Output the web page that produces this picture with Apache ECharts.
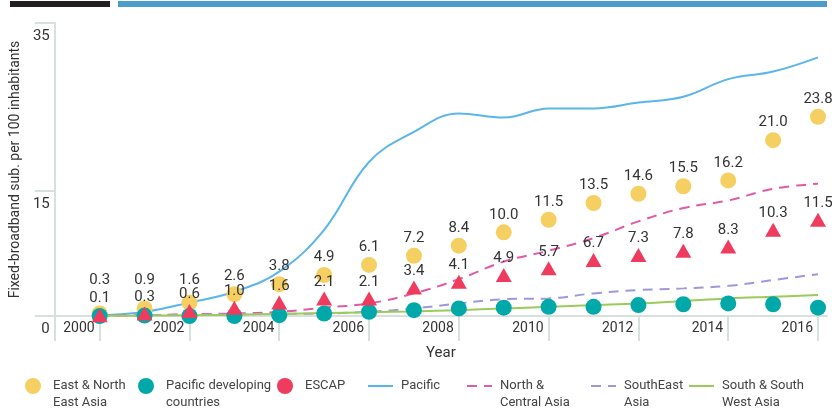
<!DOCTYPE html>
<html>
<head>
<meta charset="utf-8">
<script src="https://cdn.jsdelivr.net/npm/echarts@6/dist/echarts.min.js"></script>
<style>
  html, body { margin: 0; padding: 0; background: #fff; }
  #chart { width: 832px; height: 420px; }
</style>
</head>
<body>
<div id="chart"></div>
<script>
// values, one per year
const years = [2000, 2001, 2002, 2003, 2004, 2005, 2006, 2007, 2008, 2009, 2010, 2011, 2012, 2013, 2014, 2015, 2016];
const labelYears = [2000, 2002, 2004, 2006, 2008, 2010, 2012, 2014, 2016];
const tickYears = [1999, 2000, 2002, 2004, 2006, 2008, 2010, 2012, 2014, 2016];
const yTicks = [0, 15, 35];

const eastNorthEastAsia = [0.3, 0.9, 1.6, 2.6, 3.8, 4.9, 6.1, 7.2, 8.4, 10.0, 11.5, 13.5, 14.6, 15.5, 16.2, 21.0, 23.8];
const pacificDeveloping = [0.0, 0.05, 0.0, 0.0, 0.1, 0.3, 0.5, 0.7, 0.9, 1.0, 1.1, 1.1, 1.3, 1.4, 1.5, 1.4, 1.0];
const escap = [0.1, 0.3, 0.6, 1.0, 1.6, 2.1, 2.1, 3.4, 4.1, 4.9, 5.7, 6.7, 7.3, 7.8, 8.3, 10.3, 11.5];
const pacific = [0.05, 0.5, 1.6, 2.9, 5.3, 10.3, 18.4, 22.0, 24.2, 23.7, 24.8, 24.8, 25.5, 26.2, 28.3, 29.2, 30.9];
const northCentralAsia = [0.05, 0.1, 0.2, 0.3, 0.5, 1.0, 1.5, 2.7, 4.4, 6.5, 7.8, 9.3, 11.3, 12.9, 13.8, 15.2, 15.8];
const southEastAsia = [0.05, 0.1, 0.15, 0.2, 0.25, 0.3, 0.5, 0.9, 1.5, 2.0, 2.1, 2.7, 3.1, 3.3, 3.6, 4.3, 5.0];
const southSouthWestAsia = [0.02, 0.05, 0.1, 0.15, 0.25, 0.35, 0.45, 0.55, 0.7, 0.9, 1.1, 1.3, 1.5, 1.8, 2.1, 2.3, 2.5];

const FONT = 'Roboto, sans-serif';
const TEXT = '#333';
const AXIS = '#d8dfdf';
const GRID_TOP = 23;
const GRID_BOTTOM = 104;
const BASE_Y = 420 - GRID_BOTTOM;

// leading blank line keeps the icon level with the first text line
const legendText = {
    'East & North East Asia': '\nEast & North\nEast Asia',
    'Pacific developing countries': '\nPacific developing\ncountries',
    'ESCAP': 'ESCAP',
    'Pacific': 'Pacific',
    'North & Central Asia': '\nNorth &\nCentral Asia',
    'SouthEast Asia': '\nSouthEast\nAsia',
    'South & South West Asia': '\nSouth & South\nWest Asia'
};

const pairs = (vals) => years.map((y, i) => [y, vals[i]]);

// keep labels of the first years from sinking into the points below them
const labelFloor = (gap) => (p) => {
    const cy = p.labelRect.y + p.labelRect.height / 2;
    const floor = BASE_Y - gap;
    return cy > floor ? {dy: floor - cy} : {};
};

const pointLabel = {
    show: true,
    position: 'top',
    distance: 2,
    fontFamily: FONT,
    fontSize: 15,
    color: TEXT,
    formatter: (p) => p.value[1].toFixed(1)
};

const lineSeries = (name, vals, color, type) => ({
    name: name,
    type: 'line',
    data: pairs(vals),
    smooth: 0.4,
    symbol: 'none',
    z: 1,
    lineStyle: {color: color, width: 2, type: type},
    itemStyle: {color: color}
});

const legendItem = (name, left, twoLines, isLine) => {
    const item = {
        data: [name],
        left: left,
        top: twoLines ? 360.5 : 377.5,
        padding: 0,
        itemWidth: isLine ? 25 : 16,
        itemHeight: isLine ? 14 : 16,
        formatter: (n) => legendText[n],
        textStyle: {
            fontFamily: FONT,
            fontSize: 13,
            lineHeight: 17,
            color: '#444',
            padding: [0, 0, 0, isLine ? 3 : 7]
        }
    };
    if (isLine) {
        // hide the little marker ECharts puts in the middle of a line icon
        item.itemStyle = {opacity: 0, borderWidth: 0};
    } else {
        item.icon = 'circle';
    }
    return item;
};

const chart = echarts.init(document.getElementById('chart'));

chart.setOption({
    animation: false,
    backgroundColor: '#fff',
    graphic: [
        {type: 'rect', shape: {x: 10, y: 1, width: 100, height: 6}, style: {fill: '#231f20'}},
        {type: 'rect', shape: {x: 118, y: 1, width: 709, height: 6}, style: {fill: '#4b9ccb'}}
    ],
    grid: {left: 53, right: 5, top: GRID_TOP, bottom: GRID_BOTTOM},
    legend: [
        legendItem('East & North East Asia', 25, true, false),
        legendItem('Pacific developing countries', 138, true, false),
        legendItem('ESCAP', 277, false, false),
        legendItem('Pacific', 367, false, true),
        legendItem('North & Central Asia', 466, true, true),
        legendItem('SouthEast Asia', 590, true, true),
        legendItem('South & South West Asia', 688, true, true)
    ],
    xAxis: {
        type: 'value',
        min: 1999,
        max: 2016.2,
        name: 'Year',
        nameLocation: 'middle',
        nameGap: 30,
        nameTextStyle: {fontFamily: FONT, fontSize: 15, color: TEXT},
        axisLine: {show: true, lineStyle: {color: AXIS, width: 2}},
        axisTick: {show: true, customValues: tickYears, length: 25, lineStyle: {color: AXIS, width: 2}},
        axisLabel: {
            customValues: labelYears,
            align: 'right',
            verticalAlign: 'top',
            margin: 5,
            padding: [0, 5, 0, 0],
            fontFamily: FONT,
            fontSize: 14,
            color: TEXT,
            formatter: (v) => String(v)
        },
        splitLine: {show: false}
    },
    yAxis: {
        type: 'value',
        min: 0,
        max: 35,
        name: 'Fixed-broadband sub. per 100 inhabitants',
        nameLocation: 'middle',
        nameGap: 28,
        nameTextStyle: {fontFamily: FONT, fontSize: 14, color: TEXT},
        axisLine: {show: true, lineStyle: {color: AXIS, width: 2}},
        axisTick: {show: true, customValues: yTicks, length: 20, lineStyle: {color: AXIS, width: 2}},
        axisLabel: {
            customValues: yTicks,
            verticalAlign: 'top',
            margin: 5,
            padding: [6, 0, 0, 0],
            fontFamily: FONT,
            fontSize: 15,
            color: TEXT
        },
        splitLine: {show: false}
    },
    series: [
        lineSeries('Pacific', pacific, '#5ab6ea', 'solid'),
        lineSeries('North & Central Asia', northCentralAsia, '#e25aa6', [10, 7]),
        lineSeries('SouthEast Asia', southEastAsia, '#9e97da', [10, 7]),
        lineSeries('South & South West Asia', southSouthWestAsia, '#9ccb5b', 'solid'),
        {
            name: 'East & North East Asia',
            type: 'scatter',
            data: pairs(eastNorthEastAsia),
            symbol: 'circle',
            symbolSize: 16,
            z: 2,
            itemStyle: {color: '#f6cf62', opacity: 1},
            label: pointLabel,
            labelLayout: labelFloor(36)
        },
        {
            name: 'Pacific developing countries',
            type: 'scatter',
            data: pairs(pacificDeveloping),
            symbol: 'circle',
            symbolSize: 16,
            z: 3,
            itemStyle: {color: '#00a8a9', opacity: 1}
        },
        {
            name: 'ESCAP',
            type: 'scatter',
            data: pairs(escap),
            symbol: 'triangle',
            symbolSize: [16, 14],
            z: 4,
            itemStyle: {color: '#ee3b5e', opacity: 1},
            label: pointLabel,
            labelLayout: labelFloor(18)
        }
    ]
});
</script>
</body>
</html>
